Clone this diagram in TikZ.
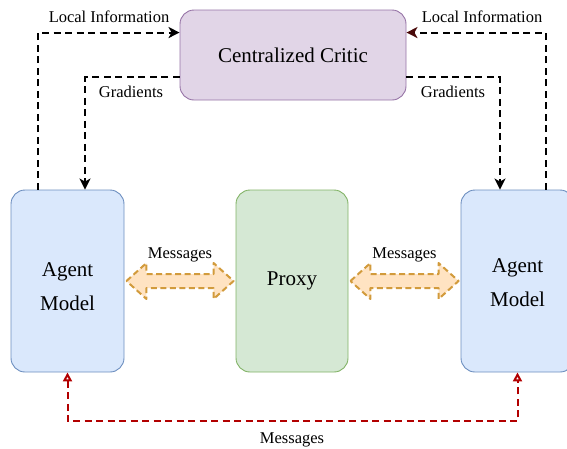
\documentclass[tikz,border=0pt]{standalone}
\usepackage{fontspec}
\setmainfont{Liberation Serif}
\usepackage{tikz}
\usetikzlibrary{shapes, arrows, arrows.meta, calc}
\definecolor{criticfill}{HTML}{E1D5E7}
\definecolor{criticdraw}{HTML}{9673A6}
\definecolor{agentfill}{HTML}{DAE8FC}
\definecolor{agentdraw}{HTML}{6C8EBF}
\definecolor{proxyfill}{HTML}{D5E8D4}
\definecolor{proxydraw}{HTML}{82B366}
\definecolor{fatfill}{HTML}{FFE3C2}
\definecolor{fatdraw}{HTML}{D29B3C}
\definecolor{msgred}{HTML}{B20000}
\definecolor{darkred}{HTML}{4A0A0A}
\tikzstyle{critic} = [rectangle, rounded corners=14pt, line width=0.9pt, minimum width=226pt, minimum height=90pt, text centered, draw=criticdraw, fill=criticfill, font=\fontsize{21}{24}\selectfont]
\tikzstyle{agent} = [rectangle, rounded corners=14pt, line width=0.9pt, minimum width=113pt, minimum height=182pt, align=center, draw=agentdraw, fill=agentfill, font=\fontsize{21}{34}\selectfont]
\tikzstyle{proxy} = [rectangle, rounded corners=14pt, line width=0.9pt, minimum width=112pt, minimum height=182pt, text centered, draw=proxydraw, fill=proxyfill, font=\fontsize{21}{24}\selectfont]
\tikzstyle{annot} = [inner sep=1pt, font=\fontsize{16.5}{18}\selectfont]
\tikzstyle{arrow} = [line width=2pt, dash pattern=on 7pt off 4.5pt, -{Stealth[length=11pt, width=11pt, inset=3pt]}]
\tikzstyle{redarrow} = [line width=2pt, dash pattern=on 7pt off 4.5pt, draw=msgred, {Triangle[open, length=9pt, width=9pt]}-{Triangle[open, length=9pt, width=9pt]}]
\tikzstyle{fatarrow} = [line width=2pt, dash pattern=on 6pt off 3.5pt, line join=round, draw=fatdraw, fill=fatfill]

\begin{document}
\begin{tikzpicture}[x=1pt, y=-1pt]
\useasboundingbox (0,0) rectangle (567,448);
\node (critic) [critic] at (293,55) {Centralized Critic};
\node (agentL) [agent] at (67.5,281) {\rule{0pt}{25pt}Agent\\Model};
\node (proxy) [proxy] at (292,281) {Proxy};
\node (agentR) [agent] at (517.5,281) {\rule{0pt}{18pt}Agent\\Model};

% local information up, gradients down
\draw [arrow] ($(agentL.north)+(-29.5,0)$) |- ($(critic.north west)+(0,23)$);
\draw [arrow, -{Stealth[length=11pt, width=11pt, inset=3pt, color=darkred]}] ($(agentR.north)+(28,0)$) |- ($(critic.north east)+(0,23)$);
\draw [arrow] ($(critic.south west)+(0,-23)$) -| ($(agentL.north)+(17.5,0)$);
\draw [arrow] ($(critic.south east)+(0,-23)$) -| ($(agentR.north)+(-17.5,0)$);
\node (infoL) [annot] at (109,17) {Local Information};
\node (infoR) [annot] at (482,17) {Local Information};
\node (gradL) [annot] at (131,92) {Gradients};
\node (gradR) [annot] at (453,92) {Gradients};

% messages to and from the proxy
\coordinate (mlA) at ($(agentL.east)+(2,0)$);
\coordinate (mlB) at ($(proxy.west)+(-2,0)$);
\coordinate (mrA) at ($(proxy.east)+(2,0)$);
\coordinate (mrB) at ($(agentR.west)+(-2,0)$);
\draw [fatarrow] (mlA) -- ++(20,-18) -- ++(0,11) -- ($(mlB)+(-20,-7)$) -- ++(0,-11) -- (mlB) -- ++(-20,18) -- ++(0,-11) -- ($(mlA)+(20,7)$) -- ++(0,11) -- cycle;
\draw [fatarrow] (mrA) -- ++(20,-18) -- ++(0,11) -- ($(mrB)+(-20,-7)$) -- ++(0,-11) -- (mrB) -- ++(-20,18) -- ++(0,-11) -- ($(mrA)+(20,7)$) -- ++(0,11) -- cycle;
\node (msgL) [annot] at ($(mlA)!.5!(mlB)+(0,-26)$) {Messages};
\node (msgR) [annot] at ($(mrA)!.5!(mrB)+(0,-26)$) {Messages};

% direct messages between the agents
\coordinate (botL) at ($(agentL.south)+(0,49)$);
\draw [redarrow] (agentL.south) -- (botL) -| (agentR.south);
\node (msgB) [annot] at ($(proxy.south |- botL)+(0,18)$) {Messages};

\end{tikzpicture}
\end{document}
